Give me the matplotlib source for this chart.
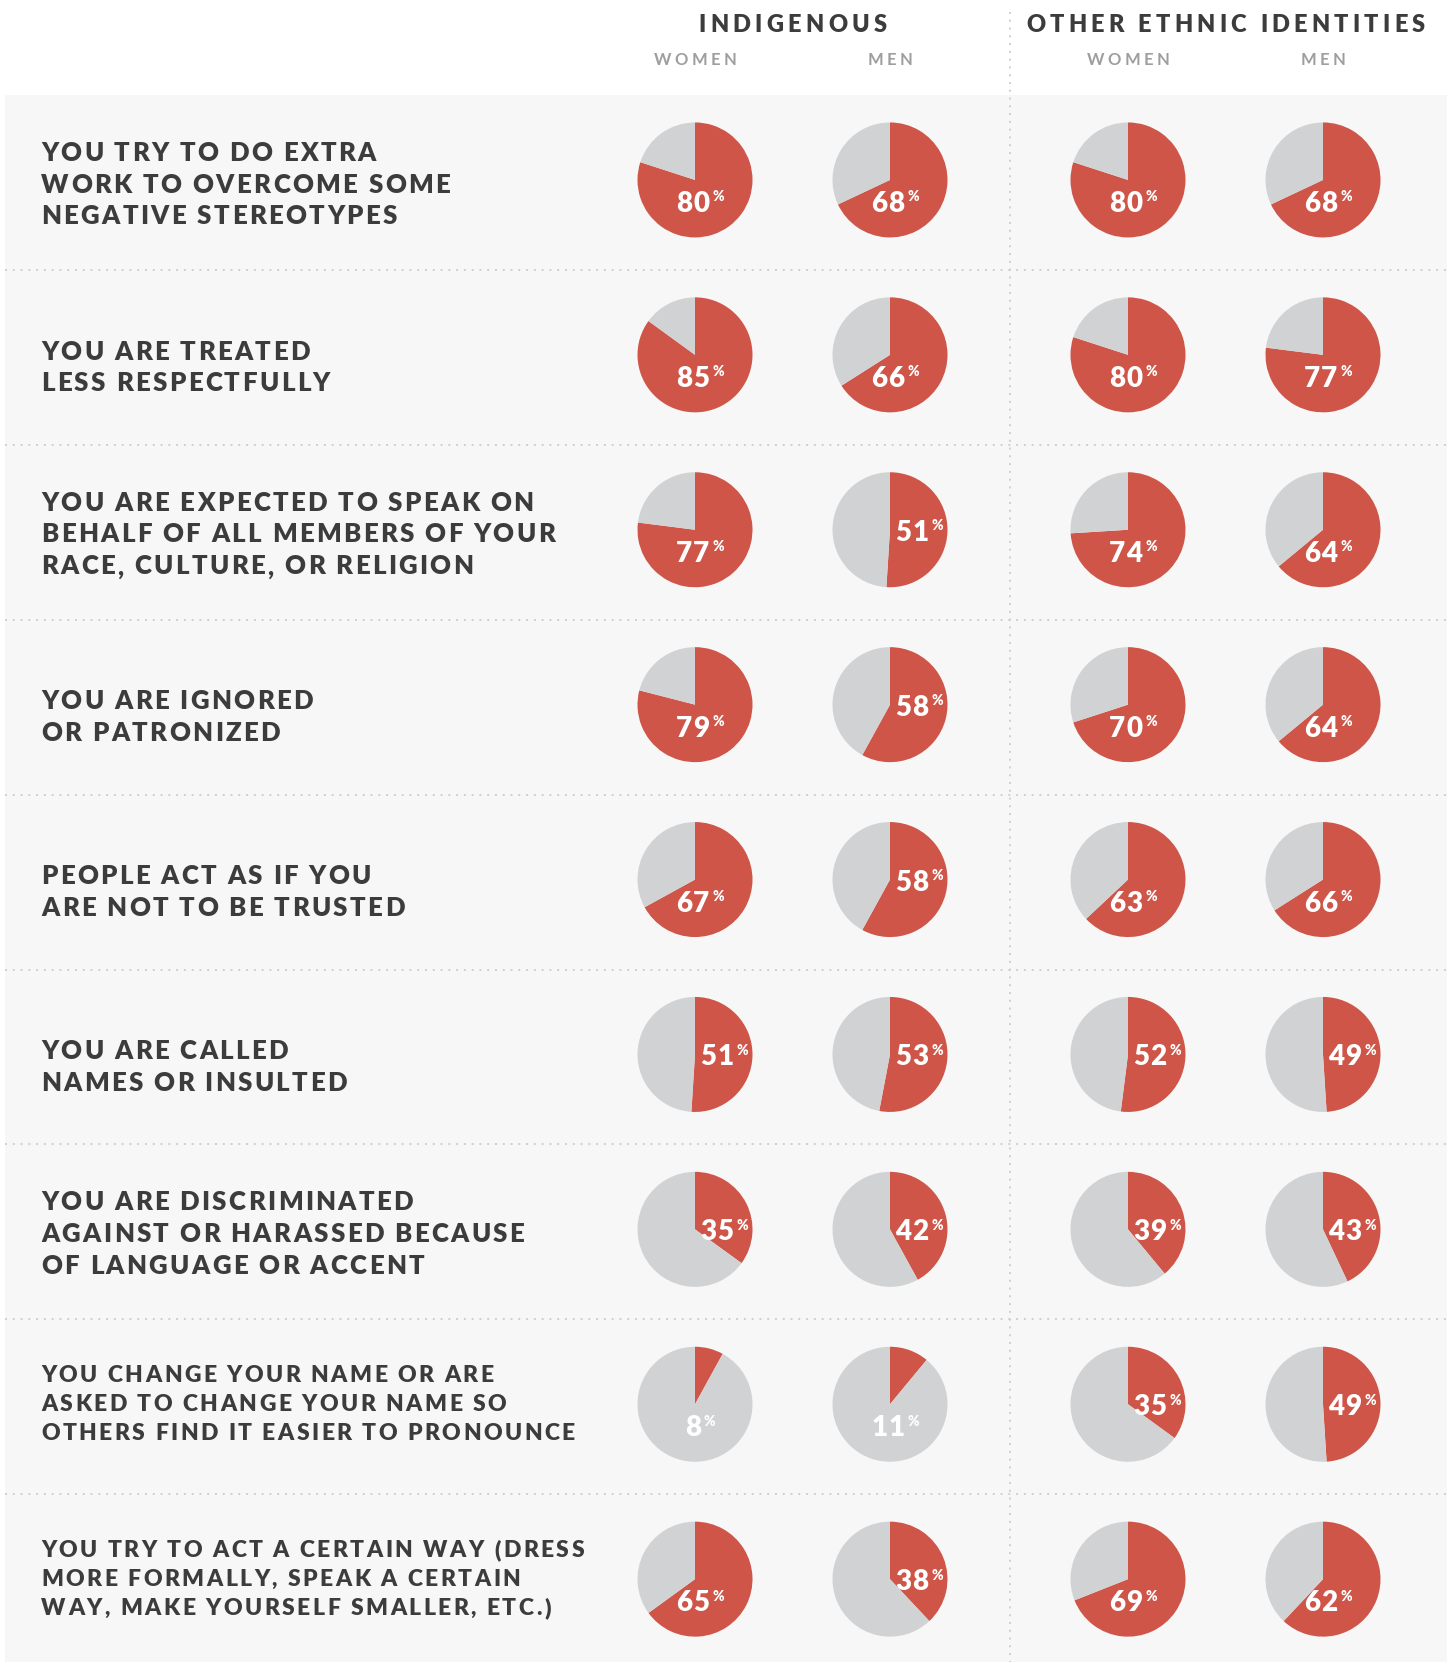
"""
Pie grid: experiences of discrimination, Indigenous vs other ethnic identities.
Writes out.png (1452 x 1662 px).
"""

import matplotlib
matplotlib.use("Agg")
import matplotlib.pyplot as plt
from matplotlib.font_manager import FontProperties, findfont, get_font
from matplotlib.patches import Rectangle

# ── Data ──────────────────────────────────────────────────────────────────── #
QUESTIONS = [
    "YOU TRY TO DO EXTRA\nWORK TO OVERCOME SOME\nNEGATIVE STEREOTYPES",
    "YOU ARE TREATED\nLESS RESPECTFULLY",
    "YOU ARE EXPECTED TO SPEAK ON\nBEHALF OF ALL MEMBERS OF YOUR\nRACE, CULTURE, OR RELIGION",
    "YOU ARE IGNORED\nOR PATRONIZED",
    "PEOPLE ACT AS IF YOU\nARE NOT TO BE TRUSTED",
    "YOU ARE CALLED\nNAMES OR INSULTED",
    "YOU ARE DISCRIMINATED\nAGAINST OR HARASSED BECAUSE\nOF LANGUAGE OR ACCENT",
    "YOU CHANGE YOUR NAME OR ARE\nASKED TO CHANGE YOUR NAME SO\nOTHERS FIND IT EASIER TO PRONOUNCE",
    "YOU TRY TO ACT A CERTAIN WAY (DRESS\nMORE FORMALLY, SPEAK A CERTAIN\nWAY, MAKE YOURSELF SMALLER, ETC.)",
]
INDIG_WOMEN = [80, 85, 77, 79, 67, 51, 35, 8, 65]
INDIG_MEN = [68, 66, 51, 58, 58, 53, 42, 11, 38]
OTHER_WOMEN = [80, 80, 74, 70, 63, 52, 39, 35, 69]
OTHER_MEN = [68, 77, 64, 64, 66, 49, 43, 49, 62]
GROUPS = ["INDIGENOUS", "OTHER ETHNIC IDENTITIES"]
SUBGROUPS = ["WOMEN", "MEN"]

# ── Layout / style ────────────────────────────────────────────────────────── #
W, H, DPI = 1452, 1662, 100
RED = "#CE5548"
GREY = "#D1D2D4"
PANEL = "#F7F7F7"
INK = "#3C3C3C"
SUBINK = "#9E9E9E"
DOTS = "#CFCFCF"
FONT = "Lato"
HEAVY = 800

PANEL_TOP = 95
ROW_H = 174.9
PANEL_X0, PANEL_X1 = 5, 1447
DIVIDER_X = 1010
PIE_X = [695, 890, 1128, 1323]
PIE_R = 57.5
TEXT_X = 41


def advances(s, size, track, weight="bold"):
    fp = FontProperties(family=FONT, weight=weight, size=size)
    font = get_font(findfont(fp))
    font.set_size(size, DPI)
    adv = [font.load_char(ord(c)).linearHoriAdvance / 65536 + track for c in s]
    return fp, adv


def tracked(ax, x, y, s, size, track, color, weight="bold", ha="left"):
    """Letter-spaced text, y is the baseline, everything in pixels."""
    fp, adv = advances(s, size, track, weight)
    total = sum(adv) - track
    if ha == "center":
        x -= total / 2
    elif ha == "right":
        x -= total
    for c, a in zip(s, adv):
        if c != " ":
            ax.text(x, y, c, fontproperties=fp, color=color,
                    ha="left", va="baseline")
        x += a
    return total


def text_width(s, size, track, weight="bold"):
    _, adv = advances(s, size, track, weight)
    return sum(adv) - track


def pct_label(ax, cx, cy, v):
    num = str(v)
    num_size, num_track, pct_size, gap = 20, 1.0, 10, 3
    wd = text_width(num, num_size, num_track, HEAVY)
    wp = text_width("%", pct_size, 0, HEAVY)
    group = wd + gap + wp
    if v >= 60 or v < 20:
        # sits in the lower half of the pie
        x0 = cx + 5 - group / 2
        base = cy + 32
    else:
        # sits to the right of the centre, kept inside the red wedge
        x0 = max(cx + 5, min(cx + 8, cx + 51 - group))
        base = cy + 11
    tracked(ax, x0, base, num, num_size, num_track, "white", HEAVY)
    tracked(ax, x0 + wd + gap, base - 10.5, "%", pct_size, 0, "white", HEAVY)


def main():
    fig = plt.figure(figsize=(W / DPI, H / DPI), dpi=DPI, facecolor="white")

    bg = fig.add_axes([0, 0, 1, 1], zorder=0)
    bg.set_xlim(0, W)
    bg.set_ylim(H, 0)
    bg.axis("off")

    fg = fig.add_axes([0, 0, 1, 1], zorder=2)
    fg.set_xlim(0, W)
    fg.set_ylim(H, 0)
    fg.axis("off")
    fg.patch.set_alpha(0)

    # panel + dotted grid
    bg.add_patch(Rectangle((PANEL_X0, PANEL_TOP), PANEL_X1 - PANEL_X0, H - PANEL_TOP,
                           facecolor=PANEL, edgecolor="none"))
    for k in range(1, len(QUESTIONS)):
        y = PANEL_TOP + k * ROW_H
        bg.plot([PANEL_X0, PANEL_X1], [y, y], color=DOTS, lw=1.4,
                linestyle=(0, (1, 3)))
    bg.plot([DIVIDER_X, DIVIDER_X], [12, H], color=DOTS, lw=1.4,
            linestyle=(0, (1, 3)))

    # headers
    for g, name in enumerate(GROUPS):
        xc = (PIE_X[2 * g] + PIE_X[2 * g + 1]) / 2
        tracked(bg, xc, 32, name, 17, 4.2, INK, HEAVY, ha="center")
        for s, sub in enumerate(SUBGROUPS):
            tracked(bg, PIE_X[2 * g + s], 65, sub, 12, 3.4, SUBINK, ha="center")

    series = [INDIG_WOMEN, INDIG_MEN, OTHER_WOMEN, OTHER_MEN]
    for i, q in enumerate(QUESTIONS):
        yc = PANEL_TOP + (i + 0.5) * ROW_H
        lines = q.split("\n")
        n = len(lines)
        if max(len(l) for l in lines) > 30:
            size, track, step, shift = 16.5, 2.5, 29.0, -4
        else:
            size, track, step, shift = 18.5, 2.4, 31.8, (9 if n == 2 else 1)
        cap = 0.7165 * size * DPI / 72
        for j, line in enumerate(lines):
            base = yc + shift + (j - (n - 1) / 2) * step + cap / 2
            tracked(bg, TEXT_X, base, line, size, track, INK, HEAVY)

        cy = yc - 2.5
        for col, vals in enumerate(series):
            cx = PIE_X[col]
            v = vals[i]
            pax = fig.add_axes([(cx - PIE_R) / W, 1 - (cy + PIE_R) / H,
                                2 * PIE_R / W, 2 * PIE_R / H], zorder=1)
            pax.pie([v, 100 - v], colors=[RED, GREY], startangle=90,
                    counterclock=False, wedgeprops=dict(linewidth=0))
            pax.set_xlim(-1, 1)
            pax.set_ylim(-1, 1)
            pax.axis("off")
            pct_label(fg, cx, cy, v)

    fig.savefig("out.png", dpi=DPI, facecolor="white")


if __name__ == "__main__":
    main()
